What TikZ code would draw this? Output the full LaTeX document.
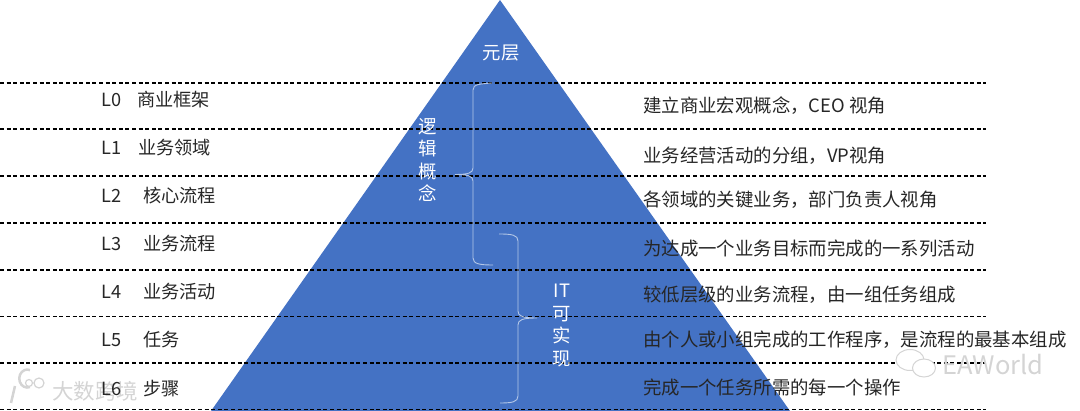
\documentclass[tikz,border=0pt]{standalone}
\usepackage{fontspec}
\setmainfont{Noto Sans CJK SC}

\definecolor{pyramidblue}{HTML}{4472C4}
\definecolor{bracelight}{HTML}{B4C7E7}
\definecolor{markgray}{HTML}{D4D4D4}

\tikzset{
  levelline/.style={black, line width=1.1pt, dash pattern=on 4pt off 2.6pt},
  bracecurve/.style={bracelight, line width=0.9pt},
  lefttext/.style={anchor=west, inner sep=0pt, font=\fontsize{18.2}{20}\selectfont, text=black!85},
  righttext/.style={anchor=west, inner sep=0pt, font=\fontsize{18.4}{20}\selectfont, text=black!85},
  whitetext/.style={inner sep=0pt, align=center, text=white, font=\fontsize{18.4}{22.5}\selectfont},
  marktext/.style={inner sep=0pt, anchor=west, text=markgray, font=\fontsize{21.5}{24}\selectfont},
  markshape/.style={draw=markgray, line width=1pt, fill=white}
}

\begin{document}
\begin{tikzpicture}[x=1pt, y=-1pt]
  \useasboundingbox (0, 0) rectangle (1080, 411);
  % pyramid
  \fill[pyramidblue] (500, 0) -- (790, 411) -- (211, 411) -- cycle;
  % level lines
  \foreach \y in {83, 129, 176, 223, 270, 316.5, 363, 409.5}
    \draw[levelline] (0, \y) -- (986, \y);
  % braces
  \draw[bracecurve] (492, 83) .. controls (480, 84) and (473, 84) .. (473, 90)
    -- (473, 168) .. controls (473, 173) and (468, 174.5) .. (455, 174.5)
    .. controls (468, 174.5) and (473, 176) .. (473, 181)
    -- (473, 258) .. controls (473, 264) and (480, 265) .. (493, 265);
  \draw[bracecurve] (499, 234) .. controls (512, 234) and (518, 235) .. (518, 241)
    -- (518, 311) .. controls (518, 316) and (522, 318) .. (537, 318)
    .. controls (522, 318) and (518, 320) .. (518, 325)
    -- (518, 396) .. controls (518, 402) and (512, 403) .. (500, 403);
  % watermarks
  \draw[markgray, line width=2.5pt] (15, 386) -- (11, 403);
  \draw[markgray, line width=2.5pt] (30, 387) arc (70:290:8 and 9);
  \draw[markgray, line width=1.2pt] (29, 383) circle (3.5) (39, 383) circle (5);
  \node[marktext] (markleft) at (52, 391) {大数跨境};
  \draw[markshape] (910, 360) ellipse (14 and 10.5);
  \draw[markshape] (924, 368) ellipse (11.5 and 9);
  \node[marktext, font=\fontsize{25.5}{28}\selectfont] (markright) at (942, 365) {EAWorld};
  % inside the pyramid
  \node[whitetext] (meta) at (501, 53) {元层};
  \node[whitetext] (logic) at (428, 160) {逻\\辑\\概\\念};
  \node[whitetext] (it) at (562, 325.5) {IT\\可\\实\\现};
  % left column
  \node[lefttext] (l0) at (101, 100) {L0\hspace{16pt}商业框架};
  \node[lefttext] (l1) at (101, 148) {L1\hspace{17pt}业务领域};
  \node[lefttext] (l2) at (101, 196) {L2\hspace{22pt}核心流程};
  \node[lefttext] (l3) at (101, 244) {L3\hspace{22pt}业务流程};
  \node[lefttext] (l4) at (101, 292) {L4\hspace{22pt}业务活动};
  \node[lefttext] (l5) at (101, 340) {L5\hspace{22pt}任务};
  \node[lefttext] (l6) at (101, 389) {L6\hspace{22pt}步骤};
  % right column
  \node[righttext] (r0) at (643, 106) {建立商业宏观概念，CEO 视角};
  \node[righttext] (r1) at (643, 156) {业务经营活动的分组，VP视角};
  \node[righttext] (r2) at (643, 200) {各领域的关键业务，部门负责人视角};
  \node[righttext] (r3) at (643, 248) {为达成一个业务目标而完成的一系列活动};
  \node[righttext] (r4) at (643, 295) {较低层级的业务流程，由一组任务组成};
  \node[righttext] (r5) at (643, 340) {由个人或小组完成的工作程序，是流程的最基本组成};
  \node[righttext] (r6) at (643, 387) {完成一个任务所需的每一个操作};
\end{tikzpicture}
\end{document}
